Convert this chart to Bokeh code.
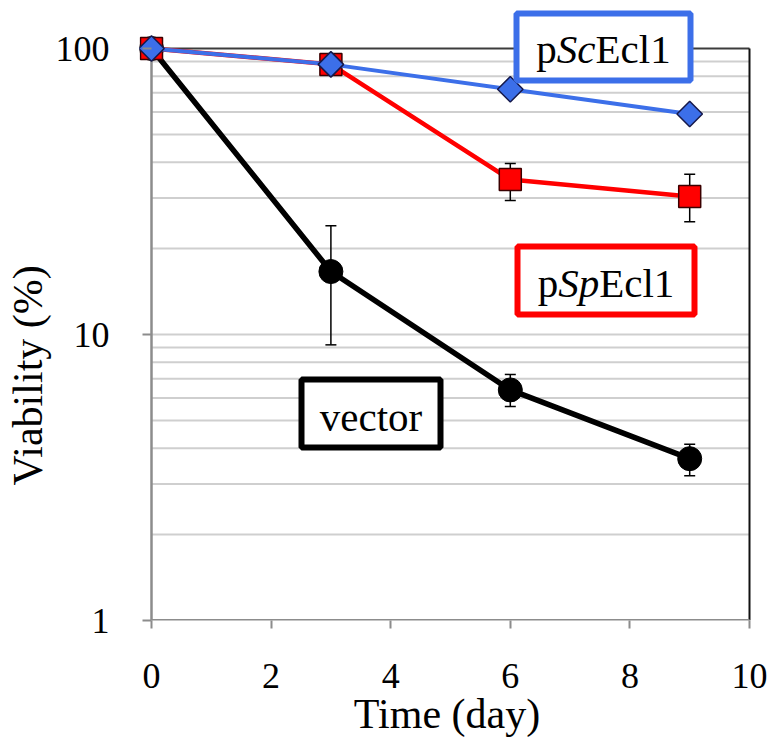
import numpy as np
from bokeh.plotting import figure
from bokeh.models import (Range1d, FixedTicker, ColumnDataSource, Whisker, TeeHead,
                          Title, BasicTickFormatter)
from bokeh.core.properties import value
from bokeh.embed import file_html
from bokeh.resources import INLINE

# ---------------- data ----------------
days = [0, 3, 6, 9]
vector = [100, 16.6, 6.4, 3.68]
vector_lo = [100, 9.2, 5.6, 3.21]
vector_hi = [100, 24.0, 7.25, 4.13]
sp_ecl1 = [100, 88, 34.8, 30.4]
sp_lo = [100, 84, 29.4, 24.8]
sp_hi = [100, 92, 39.6, 36.3]
sc_ecl1 = [100, 88, 72, 59]

x_ticks = [0, 2, 4, 6, 8, 10]
y_ticks = [1, 10, 100]
y_minor = [2, 3, 4, 5, 6, 7, 8, 9, 20, 30, 40, 50, 60, 70, 80, 90]

FONT = "Liberation Serif"

# ---------------- layout helpers (page pixels -> data) ----------------
X0, SX = 147.0, 59.8       # page x of day 0, px per day
Y1, SY = 620.0, 286.0      # page y of 1 %, px per decade


def px_to_x(px):
    return (px - X0) / SX


def py_to_y(py):
    return 10 ** ((Y1 - py) / SY)


W, H = 767, 740
FRAME_L, FRAME_R, FRAME_T = 135, 750, 4

p = figure(
    x_range=Range1d(px_to_x(FRAME_L), px_to_x(FRAME_R)),
    y_range=Range1d(1, py_to_y(FRAME_T)),
    y_axis_type="log",
    frame_width=FRAME_R - FRAME_L, frame_height=int(Y1 - FRAME_T),
    min_border_left=FRAME_L, min_border_right=W - FRAME_R,
    min_border_top=FRAME_T, min_border_bottom=int(H - Y1),
    output_backend="svg", toolbar_location=None, title=None,
)
p.outline_line_color = None
p.background_fill_color = "white"
p.border_fill_color = "white"
p.xgrid.visible = False
p.ygrid.visible = False

# axes
p.xaxis.ticker = FixedTicker(ticks=x_ticks, minor_ticks=[])
p.xaxis.axis_line_color = None
p.xaxis.major_tick_out = 8
p.xaxis.major_tick_in = 0
p.xaxis.major_tick_line_color = "#8c8c8c"
p.xaxis.major_tick_line_width = 2
p.xaxis.minor_tick_line_color = None
p.xaxis.major_label_text_font = FONT
p.xaxis.major_label_text_font_size = "36px"
p.xaxis.major_label_text_color = "black"
p.xaxis.major_label_standoff = 35
p.xaxis.axis_label = "Time (day)"
p.xaxis.axis_label_text_font = FONT
p.xaxis.axis_label_text_font_size = "42px"
p.xaxis.axis_label_text_font_style = "normal"
p.xaxis.axis_label_text_color = "black"
p.xaxis.axis_label_standoff = 0

p.yaxis.ticker = FixedTicker(ticks=y_ticks, minor_ticks=[])
p.yaxis.formatter = BasicTickFormatter()
p.yaxis.axis_line_color = None
p.yaxis.major_tick_in = 12
p.yaxis.major_tick_out = -3
p.yaxis.major_tick_line_color = "#8c8c8c"
p.yaxis.major_tick_line_width = 2
p.yaxis.minor_tick_line_color = None
p.yaxis.major_label_text_font = FONT
p.yaxis.major_label_text_font_size = "36px"
p.yaxis.major_label_text_color = "black"
p.yaxis.major_label_standoff = 30

p.add_layout(Title(text="Viability (%)", align="left", offset=135,
                   text_font=FONT, text_font_size="42px", text_font_style="normal",
                   text_color="black", standoff=4), "left")

# grid lines (from tick values)
grid_y = y_minor + [10]
p.segment(x0=[x_ticks[0]] * len(grid_y), x1=[x_ticks[-1]] * len(grid_y),
          y0=grid_y, y1=grid_y, line_color="#cfcfcf", line_width=2, level="image")

# frame lines
p.segment(x0=[x_ticks[0]], x1=[x_ticks[-1]], y0=[y_ticks[-1]], y1=[y_ticks[-1]],
          line_color="#3c3c3c", line_width=2)
p.segment(x0=[x_ticks[-1]], x1=[x_ticks[-1]], y0=[y_ticks[0]], y1=[y_ticks[-1]],
          line_color="#111111", line_width=2)
p.segment(x0=[x_ticks[0]], x1=[x_ticks[0]], y0=[y_ticks[0]], y1=[y_ticks[-1]],
          line_color="#8c8c8c", line_width=2.5)
p.segment(x0=[x_ticks[0]], x1=[x_ticks[-1]], y0=[y_ticks[0]], y1=[y_ticks[0]],
          line_color="#8c8c8c", line_width=3)

# error bars
vsrc = ColumnDataSource(dict(x=days[1:], lo=vector_lo[1:], hi=vector_hi[1:]))
ssrc = ColumnDataSource(dict(x=days[1:], lo=sp_lo[1:], hi=sp_hi[1:]))
for src in (vsrc, ssrc):
    w = Whisker(source=src, base="x", lower="lo", upper="hi",
                line_color="black", line_width=1.5,
                upper_head=TeeHead(size=11, line_color="black", line_width=1.5),
                lower_head=TeeHead(size=11, line_color="black", line_width=1.5),
                level="underlay")
    p.add_layout(w)

# series
p.line(days, vector, line_color="black", line_width=5.5)
p.scatter(days, vector, marker="circle", size=24, fill_color="black", line_color="black")

p.line(days, sp_ecl1, line_color="#ff0000", line_width=4.5)
p.scatter(days, sp_ecl1, marker="square", size=22, fill_color="#ff0000",
          line_color="#3a0000", line_width=1.5)

blue = "#3c6fe9"
p.line(days, sc_ecl1, line_color=blue, line_width=4)
p.scatter(days, sc_ecl1, marker="square", angle=np.pi / 4, size=18, fill_color=blue,
          line_color="#15184a", line_width=1.5)

# ---------------- label boxes ----------------
# (text, center page x, center page y, outer w, outer h, baseline page y, color)
boxes = [
    ("pScEcl1", 599, 46.5, 180, 73, 64, blue),
    ("pSpEcl1", 601.5, 280, 183, 74, 298, "#ff0000"),
    ("vector", 366.5, 413, 145, 74, 432, "black"),
]
BW = 6
p.rect(x=[px_to_x(b[1]) for b in boxes], y=[py_to_y(b[2]) for b in boxes],
       width=[b[3] - BW for b in boxes], height=[b[4] - BW for b in boxes],
       width_units="screen", height_units="screen",
       fill_color="white", line_color=[b[6] for b in boxes], line_width=BW)

F = 41
BASE_FIX = 16   # renderer places alphabetic text this many px lower
# text runs: (box index, text, italic, x offset from box center)
runs = [
    (0, "p", False, -67.2), (0, "Sc", True, -46.7), (0, "Ecl1", False, -8.0),
    (1, "p", False, -68.3), (1, "Sp", True, -47.8), (1, "Ecl1", False, -6.8),
]
for italic in (False, True):
    sel = [r for r in runs if r[2] == italic]
    p.text(x=[px_to_x(boxes[r[0]][1]) for r in sel],
           y=[py_to_y(boxes[r[0]][5] - BASE_FIX) for r in sel],
           text=[r[1] for r in sel], x_offset=[r[3] for r in sel],
           text_font=value(FONT), text_font_size=value(f"{F}px"),
           text_font_style="italic" if italic else "normal",
           text_align="left", text_baseline="alphabetic", text_color="black")
p.text(x=[px_to_x(boxes[2][1])], y=[py_to_y(boxes[2][5] - BASE_FIX)], text=[boxes[2][0]],
       text_font=value(FONT), text_font_size=value(f"{F}px"),
       text_align="center", text_baseline="alphabetic", text_color="black")

open("out.html", "w").write(file_html(p, INLINE))
